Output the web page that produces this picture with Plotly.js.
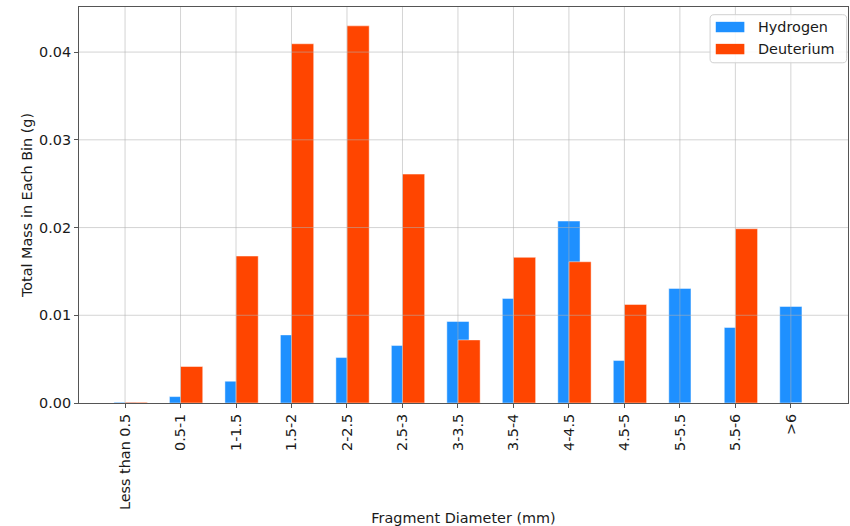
<!DOCTYPE html>
<html>
<head>
<meta charset="utf-8">
<script src="https://cdn.plot.ly/plotly-3.0.1.min.js"></script>
<style>html,body{margin:0;padding:0;background:#fff;}#chart{width:850px;height:526px;}</style>
</head>
<body>
<div id="chart"></div>
<script>
// ---- data ----
const categories = ["Less than 0.5","0.5-1","1-1.5","1.5-2","2-2.5","2.5-3","3-3.5","3.5-4","4-4.5","4.5-5","5-5.5","5.5-6",">6"];
const hydrogen  = [0.00008,0.00073,0.00248,0.00776,0.00518,0.00655,0.00929,0.01192,0.02074,0.00484,0.01306,0.00861,0.01100];
const deuterium = [0.00008,0.00416,0.01675,0.04095,0.04299,0.02609,0.00719,0.01660,0.01610,0.01123,0,0.01986,0];
const seriesNames = ["Hydrogen","Deuterium"];
const seriesColors = ["#1E90FF","#FF4500"];
const yTicks = [0,0.01,0.02,0.03,0.04];

// ---- geometry (pixels) ----
const W=850,H=526;
const L=78.6,R=848,T=7.3,B=402.7;
const pw=R-L, ph=B-T;
const px=x=>(x-L)/pw, py=y=>(B-y)/ph;

const font = 'DejaVu Sans, sans-serif';
const txt = '#1a1a1a';

const traces = [
  {type:'bar', name:seriesNames[0], x:categories, y:hydrogen, width:0.4, offset:-0.2,
   marker:{color:seriesColors[0], line:{color:'rgba(255,255,255,0.45)', width:1}}, showlegend:false},
  {type:'bar', name:seriesNames[1], x:categories, y:deuterium, width:0.4, offset:0,
   marker:{color:seriesColors[1], line:{color:'rgba(255,255,255,0.45)', width:1}}, showlegend:false}
];

const gridColor = 'rgba(176,176,176,0.55)';
const shapes = [];
categories.forEach((c,i)=>{
  shapes.push({type:'line', layer:'above', xref:'x', yref:'paper', x0:i, x1:i, y0:0, y1:1, line:{color:gridColor,width:1}});
});
yTicks.forEach(v=>{
  if(v>0) shapes.push({type:'line', layer:'above', xref:'paper', yref:'y', x0:0, x1:1, y0:v, y1:v, line:{color:gridColor,width:1}});
});

// legend box (rounded)
const lx0=px(710), lx1=px(846.7), ly0=py(63), ly1=py(15);
const rx=4/pw, ry=4/ph;
const path = `M ${lx0+rx},${ly0} L ${lx1-rx},${ly0} Q ${lx1},${ly0} ${lx1},${ly0+ry} L ${lx1},${ly1-ry} Q ${lx1},${ly1} ${lx1-rx},${ly1} L ${lx0+rx},${ly1} Q ${lx0},${ly1} ${lx0},${ly1-ry} L ${lx0},${ly0+ry} Q ${lx0},${ly0} ${lx0+rx},${ly0} Z`;
shapes.push({type:'path', layer:'above', xref:'paper', yref:'paper', path:path,
  fillcolor:'rgba(255,255,255,0.85)', line:{color:'#d0d0d0', width:1}});
const annotations = [];
const rowY=[27.3,49.3];
seriesNames.forEach((n,i)=>{
  shapes.push({type:'rect', layer:'above', xref:'paper', yref:'paper',
    x0:px(715.7), x1:px(744.3), y0:py(rowY[i]+5.2), y1:py(rowY[i]-5.2),
    fillcolor:seriesColors[i], line:{width:0}});
  annotations.push({xref:'paper', yref:'paper', x:px(756), y:py(rowY[i]), xanchor:'left', yanchor:'middle',
    text:n, showarrow:false, font:{family:font, size:14.4, color:txt}});
});

const layout = {
  width:W, height:H,
  margin:{l:L, r:W-R, t:T, b:H-B, pad:0},
  paper_bgcolor:'#fff', plot_bgcolor:'#fff',
  barmode:'overlay', showlegend:false,
  font:{family:font, size:14.4, color:txt},
  xaxis:{type:'category', range:[-0.83,13.03], showgrid:false, zeroline:false,
    tickangle:-90, ticks:'outside', ticklen:4, tickcolor:'#555', tickwidth:1,
    showline:true, mirror:true, linecolor:'#555', linewidth:1,
    tickfont:{family:font, size:14.4, color:txt},
    title:{text:'Fragment Diameter (mm)', font:{family:font, size:14.4, color:txt}, standoff:5}},
  yaxis:{range:[0,0.04514], tickvals:yTicks, tickformat:'.2f', showgrid:false, zeroline:false,
    ticks:'outside', ticklen:4, tickcolor:'#555', tickwidth:1,
    showline:true, mirror:true, linecolor:'#555', linewidth:1,
    tickfont:{family:font, size:14.4, color:txt},
    title:{text:'Total Mass in Each Bin (g)', font:{family:font, size:14.4, color:txt}, standoff:3}},
  shapes:shapes, annotations:annotations
};

Plotly.newPlot('chart', traces, layout, {displayModeBar:false, staticPlot:true});
</script>
</body>
</html>
